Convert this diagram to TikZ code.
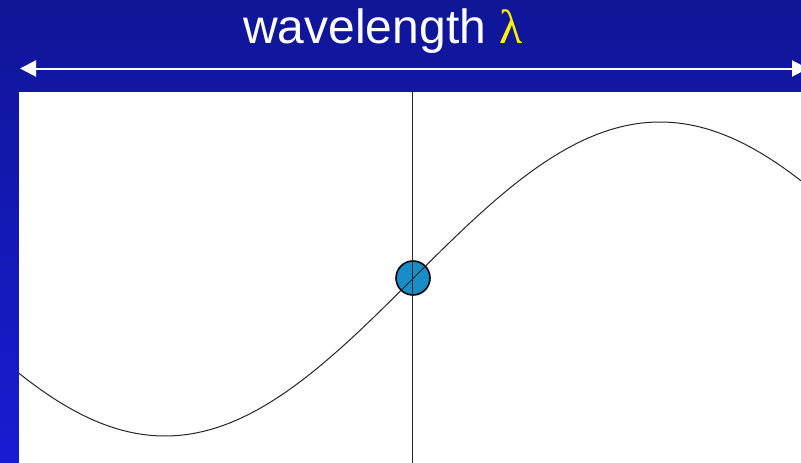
\documentclass[tikz,border=0pt]{standalone}
\usepackage{fontspec}
\setmainfont{Liberation Sans}
\newfontfamily\lamfont{Liberation Serif}
\usetikzlibrary{arrows.meta}
\definecolor{bgtop}{RGB}{15,22,150}
\definecolor{bgbot}{RGB}{24,28,210}
\definecolor{dotblue}{RGB}{24,142,200}
\tikzset{
  wavearrow/.style={white, line width=2pt, {Triangle[length=16pt,width=16pt]}-{Triangle[length=16pt,width=16pt]}},
  thinline/.style={black!85, line width=1pt},
  particle/.style={circle, draw=black, line width=1.6pt, fill=dotblue, minimum size=34pt, inner sep=0pt}
}
\begin{document}
\begin{tikzpicture}[x=1pt,y=-1pt]
\useasboundingbox (0,0) rectangle (801,463);
\clip (0,0) rectangle (801,463);
\shade[top color=bgtop,bottom color=bgbot] (0,0) rectangle (801,463);
\fill[white] (19,92) rectangle (801,463);
\node[anchor=base, text=white, inner sep=0pt, font=\fontsize{48}{52}\selectfont] (title) at (383,43) {wavelength {\lamfont\color{yellow}λ}};
\coordinate (aL) at (20,68.5);
\coordinate (aR) at (808,68.5);
\draw[wavearrow] (aL) -- (aR);
\node[particle] (dot) at (413,278) {};
\coordinate (vtop) at (412.5,92);
\coordinate (vbot) at (412.5,463);
\draw[thinline] (vtop) -- (vbot);
\draw[thinline, domain=19:801, samples=200, smooth] plot (\x, {279 - 157*sin((\x-412.5)/2.75)});
\end{tikzpicture}
\end{document}
